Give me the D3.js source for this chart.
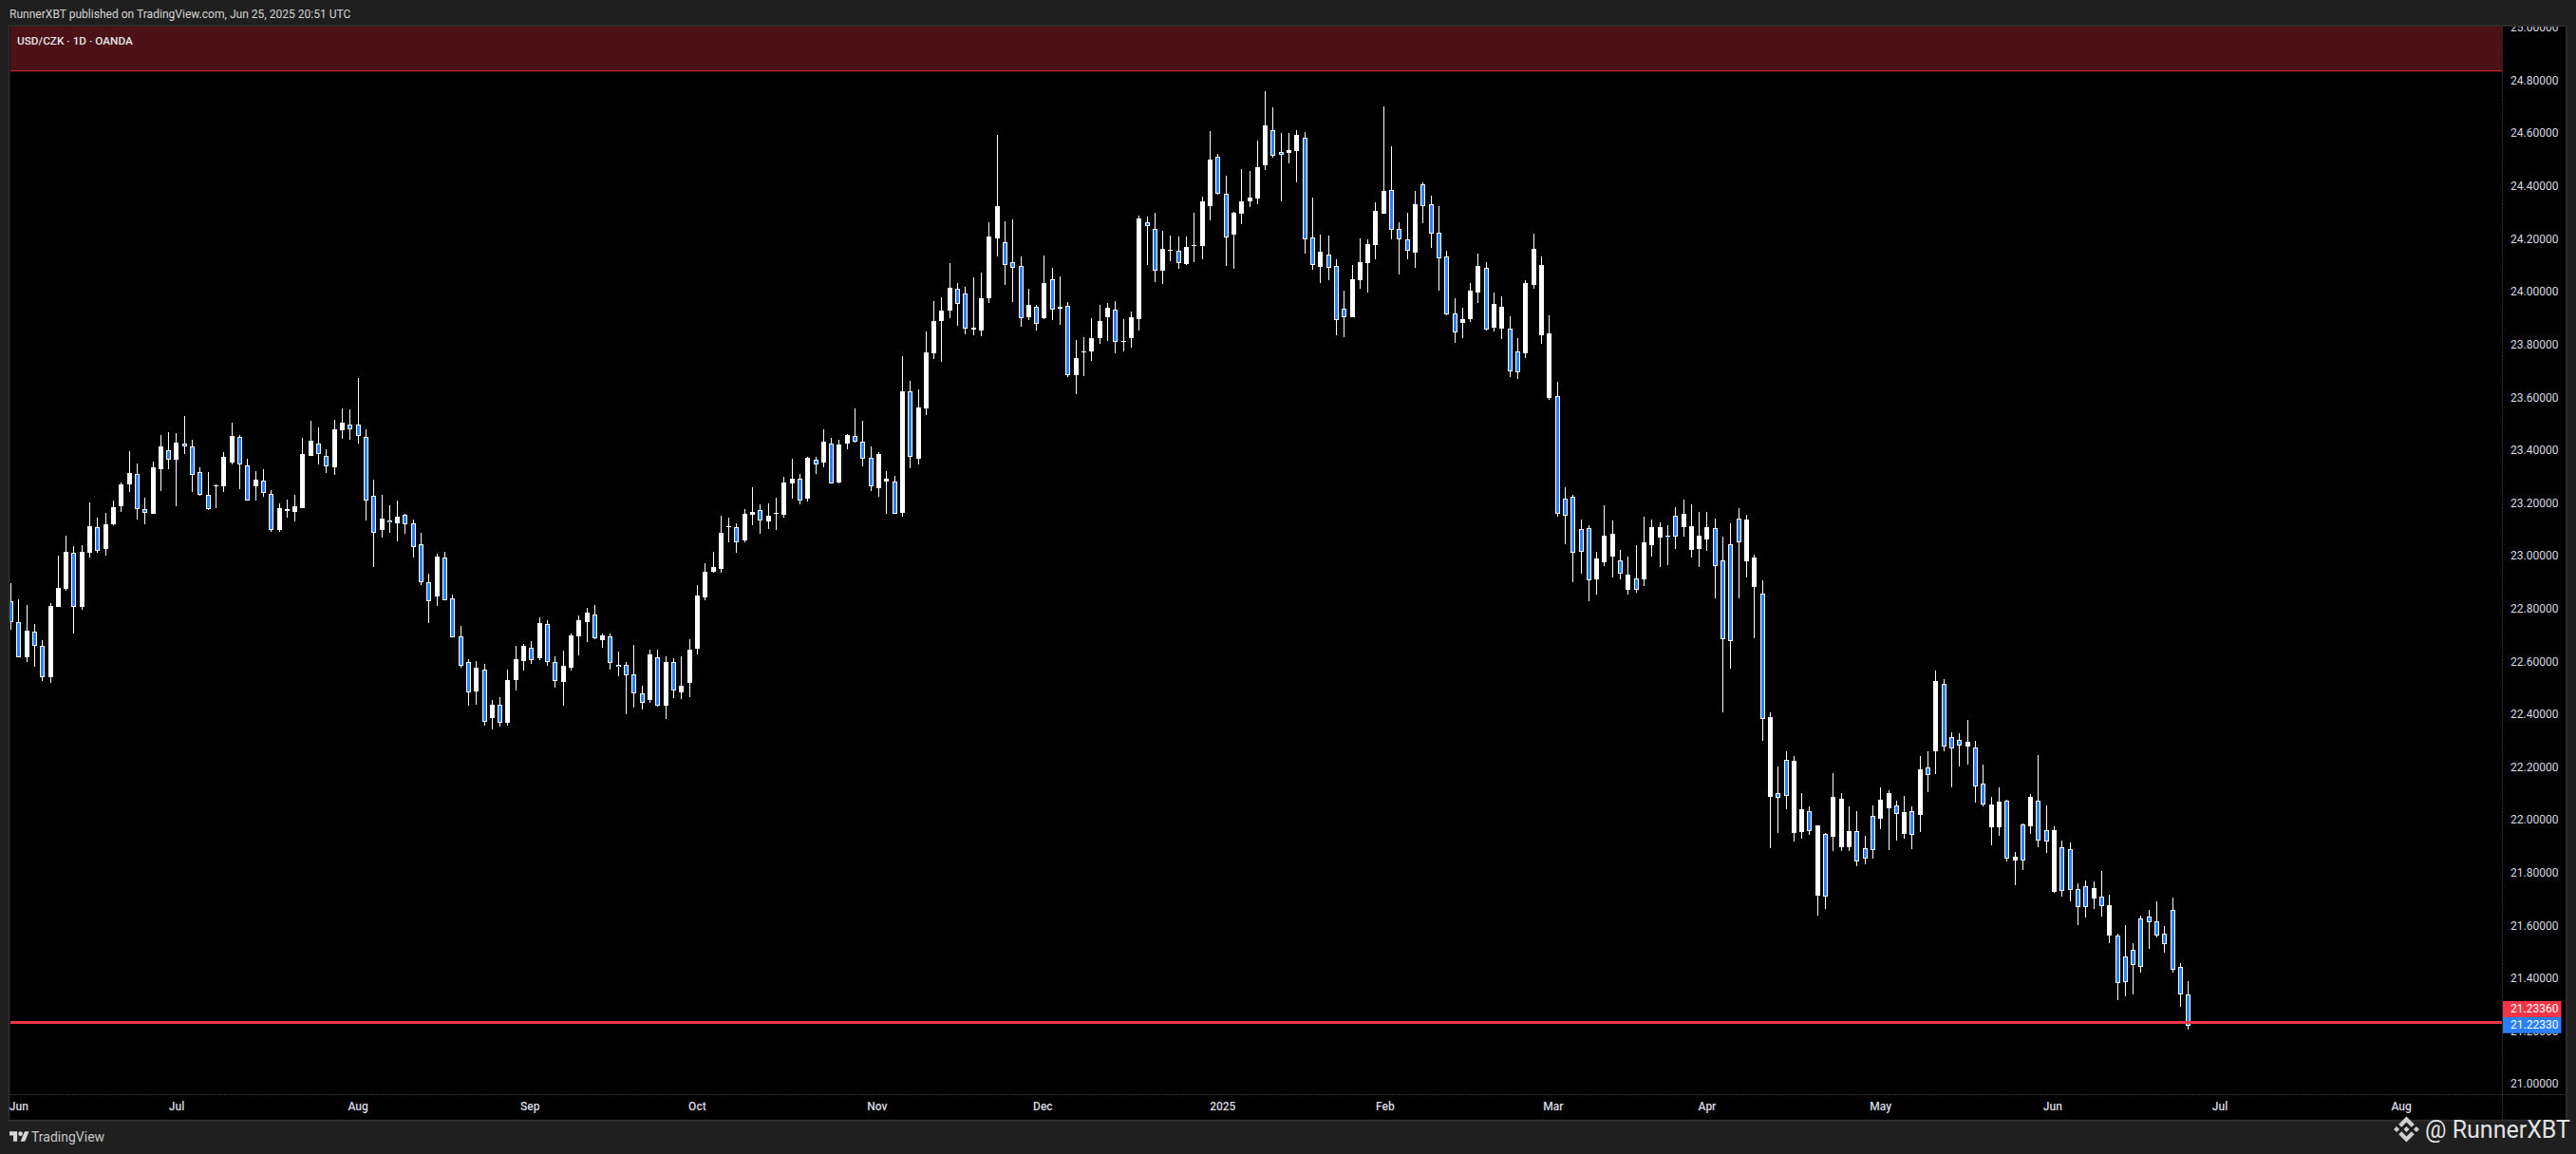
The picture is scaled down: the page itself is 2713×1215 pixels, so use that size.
<!DOCTYPE html>
<html><head><meta charset="utf-8">
<script src="https://cdn.jsdelivr.net/npm/d3@7/dist/d3.min.js"></script>
<style>html,body{margin:0;padding:0;background:#1f1f1f;overflow:hidden}svg{display:block}text{font-family:Roboto,"Liberation Sans",sans-serif}</style>
</head><body><svg id="c" width="2713" height="1215"></svg>
<script>
const direction = ("d d u d d u u u d u u d u u u u d d u u d u d d d d u u u d d u d d u u u u u d d u u d d d d u d u "+
"d d d d u d d d d u d u d u u u d u d d u u u u d u d d d d d u d u d u u u u u u u d u u d u u u u "+
"d u d u d u u d d d u u d u d u u u u u d d u u u u d d d u d u d u d u u u u u d u u u d d u u d u "+
"u u u d d u u u u u d d u u d d u d d d u u u u u d d d u d d d d d u u u d u u d d u u u u "+
"d d d d d u u u d u d u u u d d u u u u d d d d u u d u d d u u d u d u u u d d d u u d u d u d u d "+
"d d u d d u u d u d u d d u d d d d u d u d d d d d d").split(" ");
const highs = [22.897,22.835,22.814,22.745,22.681,22.821,23.001,23.077,23.037,23.041,
23.203,23.145,23.163,23.210,23.278,23.397,23.350,23.221,23.357,23.458,
23.469,23.465,23.530,23.440,23.336,23.318,23.271,23.393,23.505,23.458,
23.368,23.321,23.329,23.249,23.199,23.213,23.231,23.447,23.512,23.487,
23.404,23.516,23.559,23.555,23.674,23.480,23.289,23.231,23.192,23.210,
23.160,23.139,23.088,22.934,23.009,23.016,22.854,22.736,22.610,22.602,
22.592,22.455,22.466,22.570,22.660,22.667,22.678,22.768,22.757,22.620,
22.642,22.707,22.775,22.804,22.815,22.707,22.707,22.638,22.599,22.664,
22.509,22.646,22.646,22.620,22.613,22.620,22.685,22.890,22.973,23.016,
23.153,23.146,23.124,23.178,23.261,23.196,23.200,23.222,23.300,23.368,
23.311,23.375,23.375,23.480,23.447,23.440,23.462,23.559,23.512,23.415,
23.393,23.321,23.303,23.757,23.663,23.631,23.851,23.966,23.980,24.110,
24.034,24.020,24.056,24.074,24.265,24.596,24.268,24.275,24.135,24.013,
23.951,24.139,24.092,24.059,23.962,23.818,23.829,23.901,23.951,23.959,
23.966,23.897,23.926,24.290,24.285,24.300,24.231,24.213,24.210,24.210,
24.300,24.361,24.609,24.523,24.440,24.303,24.465,24.458,24.573,24.760,
24.699,24.602,24.602,24.613,24.606,24.357,24.217,24.213,24.123,24.004,
24.102,24.202,24.199,24.339,24.703,24.552,24.264,24.300,24.382,24.415,
24.364,24.325,24.156,23.976,23.940,24.033,24.145,24.112,23.997,23.983,
23.907,23.824,24.044,24.220,24.135,23.912,23.660,23.261,23.232,23.139,
23.117,23.016,23.193,23.135,23.024,22.998,23.042,23.150,23.139,23.128,
23.117,23.186,23.214,23.196,23.168,23.168,23.142,23.074,23.124,23.182,
23.157,23.006,22.908,22.408,22.204,22.261,22.243,22.103,22.053,21.981,
21.952,22.179,22.103,22.053,22.035,21.941,22.056,22.125,22.114,22.074,
22.092,22.053,22.243,22.261,22.566,22.534,22.333,22.329,22.379,22.300,
22.211,22.089,22.125,22.078,21.879,21.987,22.098,22.246,22.055,21.976,
21.922,21.915,21.760,21.771,21.767,21.807,21.717,21.570,21.603,21.534,
21.639,21.660,21.692,21.599,21.709,21.458,21.390];
const bodyHigh = [22.831,22.751,22.717,22.715,22.661,22.810,22.879,23.015,23.014,23.015,
23.113,23.111,23.120,23.185,23.271,23.314,23.313,23.180,23.336,23.415,
23.403,23.429,23.428,23.414,23.317,23.234,23.267,23.375,23.455,23.453,
23.345,23.289,23.288,23.237,23.181,23.177,23.188,23.386,23.437,23.425,
23.378,23.480,23.505,23.497,23.497,23.453,23.230,23.141,23.137,23.149,
23.156,23.123,23.044,22.900,22.998,22.994,22.839,22.698,22.598,22.577,
22.572,22.437,22.436,22.530,22.610,22.660,22.655,22.746,22.742,22.601,
22.584,22.700,22.757,22.786,22.778,22.700,22.695,22.590,22.587,22.551,
22.482,22.628,22.619,22.599,22.598,22.509,22.646,22.851,22.941,22.959,
23.088,23.114,23.109,23.160,23.168,23.174,23.153,23.164,23.278,23.293,
23.295,23.372,23.367,23.433,23.425,23.422,23.458,23.457,23.435,23.371,
23.386,23.293,23.284,23.624,23.626,23.563,23.771,23.890,23.930,24.016,
24.011,23.993,23.865,23.977,24.211,24.326,24.189,24.113,24.099,23.951,
23.943,24.034,24.049,23.944,23.947,23.750,23.775,23.825,23.890,23.941,
23.932,23.815,23.905,24.279,24.266,24.241,24.163,24.159,24.158,24.170,
24.177,24.343,24.501,24.511,24.374,24.300,24.343,24.357,24.472,24.631,
24.615,24.529,24.537,24.595,24.586,24.208,24.152,24.144,24.100,23.938,
24.048,24.112,24.181,24.307,24.382,24.388,24.241,24.201,24.332,24.410,
24.334,24.226,24.136,23.920,23.896,24.004,24.098,24.093,23.954,23.946,
23.863,23.774,24.033,24.163,24.101,23.842,23.605,23.218,23.224,23.103,
23.105,22.991,23.078,23.084,22.983,22.932,22.916,23.052,23.110,23.109,
23.078,23.153,23.159,23.112,23.078,23.110,23.105,22.983,23.045,23.142,
23.138,22.994,22.857,22.392,22.103,22.229,22.224,22.042,22.033,21.979,
21.948,22.089,22.080,21.959,21.958,21.894,22.017,22.078,22.102,22.055,
22.030,22.035,22.193,22.199,22.527,22.518,22.315,22.306,22.296,22.277,
22.138,22.059,22.071,22.073,21.863,21.983,22.088,22.076,21.962,21.964,
21.897,21.892,21.741,21.749,21.744,21.712,21.680,21.565,21.484,21.508,
21.628,21.637,21.619,21.569,21.659,21.446,21.339];
const bodyLow = [22.750,22.617,22.617,22.660,22.541,22.541,22.807,22.875,22.808,22.807,
23.012,23.020,23.026,23.120,23.188,23.271,23.179,23.164,23.159,23.329,
23.366,23.365,23.416,23.308,23.233,23.179,23.264,23.264,23.354,23.348,
23.211,23.264,23.240,23.099,23.098,23.170,23.167,23.181,23.379,23.387,
23.341,23.336,23.476,23.481,23.456,23.211,23.089,23.098,23.128,23.123,
23.122,23.036,22.902,22.830,22.847,22.834,22.694,22.586,22.485,22.487,
22.373,22.386,22.370,22.368,22.530,22.602,22.607,22.613,22.600,22.528,
22.523,22.577,22.696,22.750,22.690,22.682,22.596,22.582,22.550,22.481,
22.445,22.455,22.434,22.433,22.492,22.484,22.520,22.649,22.844,22.941,
22.952,23.110,23.054,23.060,23.157,23.136,23.132,23.160,23.156,23.275,
23.211,23.217,23.348,23.354,23.276,23.278,23.426,23.433,23.369,23.265,
23.257,23.282,23.161,23.163,23.377,23.368,23.559,23.768,23.890,23.930,
23.956,23.863,23.858,23.854,23.977,24.203,24.103,24.092,23.902,23.905,
23.881,23.901,23.935,23.937,23.686,23.685,23.771,23.775,23.825,23.905,
23.812,23.811,23.825,23.897,24.250,24.081,24.080,24.156,24.110,24.105,
24.174,24.174,24.325,24.373,24.207,24.217,24.296,24.343,24.354,24.480,
24.517,24.520,24.526,24.534,24.200,24.103,24.094,24.092,23.894,23.905,
23.904,24.044,24.109,24.177,24.296,24.236,24.200,24.157,24.148,24.326,
24.222,24.128,23.916,23.847,23.882,23.896,23.997,23.858,23.864,23.862,
23.700,23.698,23.770,24.026,23.837,23.600,23.162,23.153,23.014,23.016,
22.910,22.912,22.977,23.000,22.935,22.874,22.872,22.912,23.042,23.072,
23.074,23.074,23.111,23.025,23.027,23.063,22.964,22.686,22.678,23.052,
22.982,22.884,22.384,22.090,22.085,22.092,21.953,21.955,21.960,21.715,
21.711,21.937,21.899,21.898,21.845,21.855,21.887,22.006,22.047,22.025,
21.949,21.945,22.020,22.173,22.261,22.280,22.272,22.283,22.278,22.129,
22.061,21.975,21.973,21.856,21.848,21.846,21.976,21.923,21.918,21.729,
21.731,21.736,21.671,21.670,21.704,21.675,21.564,21.384,21.387,21.453,
21.444,21.615,21.564,21.532,21.435,21.341,21.2233];
const lows = [22.721,22.617,22.601,22.583,22.529,22.519,22.807,22.868,22.709,22.796,
22.994,23.012,23.001,23.116,23.167,23.242,23.138,23.120,23.159,23.246,
23.329,23.188,23.386,23.242,23.228,23.174,23.181,23.242,23.349,23.253,
23.211,23.210,23.224,23.091,23.091,23.145,23.131,23.181,23.379,23.347,
23.314,23.307,23.444,23.440,23.426,23.134,22.958,23.069,23.087,23.055,
23.085,22.995,22.890,22.746,22.811,22.834,22.694,22.577,22.433,22.437,
22.358,22.343,22.354,22.358,22.491,22.566,22.592,22.606,22.584,22.502,
22.433,22.566,22.624,22.674,22.685,22.653,22.570,22.545,22.401,22.426,
22.419,22.444,22.430,22.383,22.462,22.458,22.466,22.628,22.833,22.937,
22.937,23.052,23.013,23.052,23.117,23.085,23.103,23.099,23.145,23.217,
23.195,23.206,23.311,23.336,23.276,23.275,23.404,23.429,23.339,23.246,
23.224,23.159,23.161,23.149,23.332,23.347,23.534,23.746,23.735,23.901,
23.872,23.840,23.836,23.833,23.959,24.135,24.027,23.962,23.869,23.894,
23.854,23.897,23.894,23.876,23.678,23.613,23.681,23.739,23.804,23.815,
23.768,23.775,23.789,23.854,24.102,24.037,24.030,24.116,24.087,24.102,
24.112,24.123,24.271,24.368,24.098,24.087,24.256,24.321,24.332,24.462,
24.508,24.343,24.487,24.415,24.145,24.084,24.033,24.044,23.835,23.828,
23.904,24.012,23.997,24.123,24.296,24.199,24.066,24.123,24.091,24.260,
24.166,24.004,23.911,23.806,23.824,23.886,23.958,23.853,23.850,23.821,
23.680,23.670,23.749,24.012,23.804,23.591,23.150,23.045,22.901,22.934,
22.829,22.854,22.962,22.919,22.912,22.854,22.862,22.887,22.998,22.959,
22.966,23.027,23.074,22.995,22.959,23.020,22.840,22.408,22.574,22.840,
22.919,22.689,22.300,21.894,21.952,22.042,21.919,21.930,21.945,21.639,
21.664,21.883,21.883,21.883,21.826,21.833,21.855,21.966,21.887,21.923,
21.930,21.891,21.955,22.107,22.175,22.261,22.125,22.204,22.211,22.067,
22.053,21.905,21.941,21.844,21.753,21.810,21.947,21.897,21.875,21.724,
21.710,21.692,21.603,21.631,21.666,21.635,21.534,21.318,21.333,21.340,
21.423,21.513,21.556,21.498,21.423,21.293,21.207];

const priceTicks = d3.range(0, 21).map(i => 21 + i * 0.2);
const monthLabels = ["Jun","Jul","Aug","Sep","Oct","Nov","Dec","2025","Feb","Mar","Apr","May","Jun","Jul","Aug"];
const monthBars = [1,21,44,65.8,87,109.8,130.8,153.6,174.2,195.5,215,237,258.8,280,303];
const resistanceLevel = 24.838;
const askPrice = 21.2336, lastPrice = 21.2233;

const bars = highs.map((h, i) => ({i, high:h, low:lows[i], top:bodyHigh[i], bottom:bodyLow[i], up:direction[i]==="u"}));

const W=2713,H=1215, paneL=10.7, paneT=28, paneR=2635, paneB=1152;
const x = d3.scaleLinear().domain([0,276]).range([11,2304.3]);
const y = d3.scaleLinear().domain([21,25]).range([1141.7,29.5]);
const svg = d3.select("#c");
const BLUE="#2a7fff", RED="#f23645", AX="#d9dbe0";

svg.append("rect").attr("width",W).attr("height",H).attr("fill","#1f1f1f");
const defs = svg.append("defs");
defs.append("clipPath").attr("id","pane").append("rect").attr("x",paneL).attr("y",paneT).attr("width",paneR-paneL).attr("height",paneB-paneT);
defs.append("clipPath").attr("id","axisClip").append("rect").attr("x",paneR).attr("y",paneT).attr("width",2703-paneR).attr("height",1180-paneT);

// frame
svg.append("rect").attr("x",9.5).attr("y",27).attr("width",2693.5).attr("height",1152.7).attr("fill","#000").attr("stroke","#2e2e2e").attr("stroke-width",1.8);

// header & footer text
svg.append("text").attr("x",10).attr("y",19).attr("font-size",12.05).attr("fill","#d4d4d4").text("RunnerXBT published on TradingView.com, Jun 25, 2025 20:51 UTC");

const pane = svg.append("g").attr("clip-path","url(#pane)");
pane.append("rect").attr("x",paneL).attr("y",paneT).attr("width",paneR-paneL).attr("height",y(resistanceLevel)-paneT).attr("fill","#4c1218");
pane.append("line").attr("x1",paneL).attr("x2",paneR).attr("y1",y(resistanceLevel)).attr("y2",y(resistanceLevel)).attr("stroke","#c4222e").attr("stroke-width",1.2);

svg.append("text").attr("x",18).attr("y",46.5).attr("font-size",11.8).attr("font-weight",500).attr("fill","#e6e6e6").text("USD/CZK · 1D · OANDA");

// candles
const cx = i => Math.round(x(i));
const g = pane.append("g").attr("shape-rendering","crispEdges");
g.selectAll("line.w").data(bars).join("line").attr("class","w")
 .attr("x1",d=>cx(d.i)+0.5).attr("x2",d=>cx(d.i)+0.5)
 .attr("y1",d=>y(d.high)).attr("y2",d=>y(d.low)).attr("stroke","#fff").attr("stroke-width",1);
g.selectAll("rect.b").data(bars).join("rect").attr("class","b")
 .attr("x",d=>cx(d.i)-2).attr("width",5)
 .attr("y",d=>Math.round(y(d.top)))
 .attr("height",d=>Math.max(1,Math.round(y(d.bottom))-Math.round(y(d.top))))
 .attr("fill","#fff");
g.selectAll("rect.i").data(bars.filter(d=>!d.up)).join("rect").attr("class","i")
 .attr("x",d=>cx(d.i)-1).attr("width",3)
 .attr("y",d=>Math.round(y(d.top))+1)
 .attr("height",d=>Math.max(1,Math.round(y(d.bottom))-Math.round(y(d.top))-2))
 .attr("fill",BLUE);

// current price line
pane.append("line").attr("x1",paneL).attr("x2",paneR).attr("y1",y(askPrice)-0.2).attr("y2",y(askPrice)-0.2).attr("stroke",RED).attr("stroke-width",3).attr("shape-rendering","crispEdges");

// separators
svg.append("line").attr("x1",paneR+0.5).attr("x2",paneR+0.5).attr("y1",paneT).attr("y2",1180).attr("stroke","#3a3a3a").attr("stroke-dasharray","1.5 1");
svg.append("line").attr("x1",paneL).attr("x2",2703).attr("y1",1152.5).attr("y2",1152.5).attr("stroke","#3a3a3a").attr("stroke-dasharray","1.5 1");

// price axis
const yAxis = d3.axisRight(y).tickValues(priceTicks).tickSize(0).tickPadding(9).tickFormat(d3.format(".5f"));
const ya = svg.append("g").attr("clip-path","url(#axisClip)").append("g").attr("transform",`translate(${paneR},-0.6)`).call(yAxis);
ya.select(".domain").remove();
ya.selectAll("text").attr("font-size",12).attr("fill",AX).style("font-family","Roboto");

// last-price tags
const tagFmt = d3.format(".5f");
[[askPrice,RED,1054,17],[lastPrice,BLUE,1071,16.8]].forEach(([v,c,ty,th])=>{
  svg.append("rect").attr("x",paneR+1).attr("y",ty).attr("width",61.5).attr("height",th).attr("fill",c);
  svg.append("text").attr("x",paneR+9).attr("y",ty+th/2-0.4).attr("dy","0.34em").attr("font-size",12).attr("fill","#fff").text(tagFmt(v));
});

// time axis
const xAxis = d3.axisBottom(x).tickValues(monthBars).tickSize(0).tickPadding(8.4).tickFormat((d,i)=>monthLabels[i]);
const xa = svg.append("g").attr("transform","translate(0,1152)").call(xAxis);
xa.select(".domain").remove();
xa.selectAll("text").attr("font-size",12).attr("font-weight",500).attr("fill",AX).style("font-family","Roboto");

// TradingView logo
svg.append("g").attr("transform","translate(10,1189) scale(0.58)").attr("fill","#d8d8d8").call(s=>{
  s.append("path").attr("d","M14 22H7V11H0V4h14v18zM28 22h-8l7.5-18h8L28 22z");
  s.append("circle").attr("cx",20).attr("cy",8).attr("r",4);
});
svg.append("text").attr("x",33).attr("y",1201.5).attr("font-size",14).attr("fill","#c8c8c8").text("TradingView");

// watermark
svg.append("path").attr("transform","translate(2521,1175.5) scale(1.125)").attr("fill","#cfcfcf")
 .attr("d","M16.624 13.9202l2.7175 2.7154-7.353 7.353-7.353-7.352 2.7175-2.7164 4.6355 4.6595 4.6356-4.6595zm4.6366-4.6366L24 12l-2.7154 2.7164L18.5682 12l2.6924-2.7164zm-9.272.001l2.7163 2.6914-2.7164 2.7174v-.001L9.2721 12l2.7164-2.7154zm-9.2722-.001L5.4088 12l-2.6914 2.6934L0 12l2.7164-2.7164zM11.9885.0115l7.353 7.329-2.7174 2.7154-4.6356-4.6356-4.6355 4.6595-2.7174-2.7154 7.353-7.353z");
svg.append("text").attr("x",2554).attr("y",1198).attr("font-size",25).attr("fill","#e2e2e2").text("@ RunnerXBT");
</script></body></html>
